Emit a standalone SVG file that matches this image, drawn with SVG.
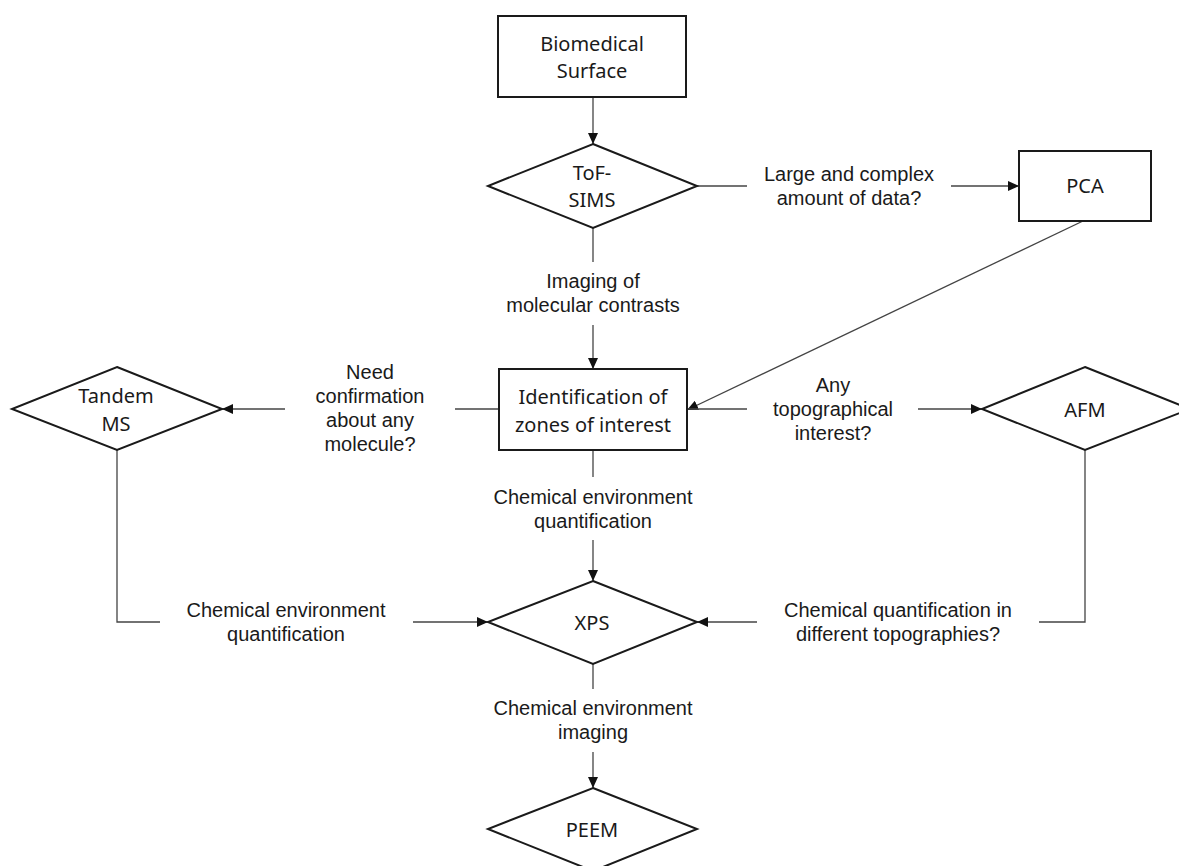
<svg xmlns="http://www.w3.org/2000/svg" width="1179" height="866" viewBox="0 0 1179 866">
<style>
.node{fill:#fff;stroke:#1a1a1a;stroke-width:2}
.nt{font-family:"Noto Sans","Open Sans",sans-serif;font-size:20px;fill:#1a1a1a;text-anchor:middle}
.lt{font-family:"Liberation Sans",Arial,sans-serif;font-size:20px;fill:#1a1a1a;text-anchor:middle}
.c{fill:none;stroke:#444;stroke-width:1.3}
</style>
<defs>
<marker id="ah" markerUnits="userSpaceOnUse" markerWidth="12" markerHeight="10" refX="11" refY="5" orient="auto">
<path d="M0,0 L11,5 L0,10 z" fill="#111"/>
</marker>
</defs>
<rect width="1179" height="866" fill="#fff"/>
<g id="connectors">
<path class="c" d="M593,97 V144" marker-end="url(#ah)"/>
<path class="c" d="M697,186 H747"/>
<path class="c" d="M951,186 H1019" marker-end="url(#ah)"/>
<path class="c" d="M593,228 V262"/>
<path class="c" d="M593,325 V369" marker-end="url(#ah)"/>
<path class="c" d="M1083,221 L687,410" marker-end="url(#ah)"/>
<path class="c" d="M499,409 H455"/>
<path class="c" d="M285,409 H222" marker-end="url(#ah)"/>
<path class="c" d="M687,409 H747"/>
<path class="c" d="M918,409 H982" marker-end="url(#ah)"/>
<path class="c" d="M593,450 V477"/>
<path class="c" d="M593,540 V581" marker-end="url(#ah)"/>
<path class="c" d="M117,450 V622 H160"/>
<path class="c" d="M413,622 H488" marker-end="url(#ah)"/>
<path class="c" d="M1085,450 V622 H1039"/>
<path class="c" d="M757,622 H697" marker-end="url(#ah)"/>
<path class="c" d="M593,664 V689"/>
<path class="c" d="M593,752 V788" marker-end="url(#ah)"/>
<text class="lt" x="849" y="181">Large and complex</text>
<text class="lt" x="849" y="205">amount of data?</text>
<text class="lt" x="593" y="288">Imaging of</text>
<text class="lt" x="593" y="312">molecular contrasts</text>
<text class="lt" x="370" y="379">Need</text>
<text class="lt" x="370" y="403">confirmation</text>
<text class="lt" x="370" y="427">about any</text>
<text class="lt" x="370" y="451">molecule?</text>
<text class="lt" x="833" y="392">Any</text>
<text class="lt" x="833" y="416">topographical</text>
<text class="lt" x="833" y="440">interest?</text>
<text class="lt" x="593" y="504">Chemical environment</text>
<text class="lt" x="593" y="528">quantification</text>
<text class="lt" x="286" y="617">Chemical environment</text>
<text class="lt" x="286" y="641">quantification</text>
<text class="lt" x="898" y="617">Chemical quantification in</text>
<text class="lt" x="898" y="641">different topographies?</text>
<text class="lt" x="593" y="715">Chemical environment</text>
<text class="lt" x="593" y="739">imaging</text>
</g>
<g id="biomedical">
<rect class="node" x="498" y="16" width="188" height="81"/>
<text class="nt" x="592" y="51">Biomedical</text>
<text class="nt" x="592" y="78">Surface</text>
</g>
<g id="tofsims">
<polygon class="node" points="593,144 697,186 593,228 488,186"/>
<text class="nt" x="592" y="180">ToF-</text>
<text class="nt" x="592" y="207">SIMS</text>
</g>
<g id="pca">
<rect class="node" x="1019" y="151" width="132" height="70"/>
<text class="nt" x="1085" y="193">PCA</text>
</g>
<g id="identification">
<rect class="node" x="499" y="369" width="188" height="81"/>
<text class="nt" x="593" y="404">Identification of</text>
<text class="nt" x="593" y="432">zones of interest</text>
</g>
<g id="tandem">
<polygon class="node" points="117,367 222,409 117,450 12,409"/>
<text class="nt" x="116" y="403">Tandem</text>
<text class="nt" x="116" y="431">MS</text>
</g>
<g id="afm">
<polygon class="node" points="1085,367 1190,409 1085,450 982,409"/>
<text class="nt" x="1085" y="417">AFM</text>
</g>
<g id="xps">
<polygon class="node" points="593,581 697,622 593,664 488,622"/>
<text class="nt" x="592" y="630">XPS</text>
</g>
<g id="peem">
<polygon class="node" points="593,788 697,829 593,871 488,829"/>
<text class="nt" x="592" y="837">PEEM</text>
</g>
</svg>
